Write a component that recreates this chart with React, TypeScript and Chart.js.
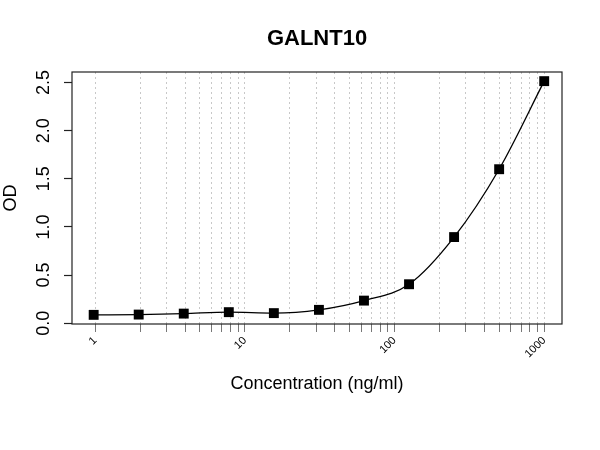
import React, { useEffect, useRef } from 'react';
import { Chart, registerables } from 'chart.js';

Chart.register(...registerables);

const titleText = 'GALNT10';
const xLabel = 'Concentration (ng/ml)';
const yLabel = 'OD';
const concentrations = [0.977, 1.953, 3.906, 7.8125, 15.625, 31.25, 62.5, 125, 250, 500, 1000];
const odValues = [0.087, 0.09, 0.1, 0.115, 0.105, 0.139, 0.235, 0.405, 0.895, 1.6, 2.515];
const xTickValues = [1, 2, 3, 4, 5, 6, 7, 8, 9, 10, 20, 30, 40, 50, 60, 70, 80, 90, 100, 200, 300, 400, 500, 600, 700, 800, 900, 1000];
const xTickLabels = [1, 10, 100, 1000];
const yTickValues = [0, 0.5, 1, 1.5, 2, 2.5];

const FONT = '"Liberation Sans", Arial, Helvetica, sans-serif';

const boxAndTitle = {
  id: 'boxAndTitle',
  beforeDatasetsDraw(chart: any) {
    const { ctx, chartArea: a } = chart;
    ctx.save();
    ctx.strokeStyle = '#222';
    ctx.lineWidth = 1.2;
    ctx.setLineDash([]);
    ctx.strokeRect(a.left, a.top, a.right - a.left, a.bottom - a.top);
    ctx.restore();
  },
  afterDraw(chart: any) {
    const { ctx, chartArea: a } = chart;
    ctx.save();
    ctx.fillStyle = '#000';
    ctx.font = 'bold 22px ' + FONT;
    ctx.textAlign = 'center';
    ctx.textBaseline = 'alphabetic';
    ctx.fillText(titleText, (a.left + a.right) / 2, 45);
    ctx.restore();
  },
};

export default function App() {
  const canvasRef = useRef<HTMLCanvasElement | null>(null);

  useEffect(() => {
    if (!canvasRef.current) return;
    const chart = new Chart(canvasRef.current, {
      type: 'scatter',
      data: {
        datasets: [
          {
            data: concentrations.map((x, i) => ({ x, y: odValues[i] })),
            showLine: true,
            borderColor: '#000',
            borderWidth: 1.3,
            backgroundColor: '#000',
            pointStyle: 'rect',
            pointRadius: 7,
            pointBorderWidth: 0,
            pointBackgroundColor: '#000',
            cubicInterpolationMode: 'monotone',
          } as any,
        ],
      },
      options: {
        animation: false,
        responsive: false,
        layout: { padding: { top: 72, right: 38, bottom: 0, left: 0 } },
        plugins: {
          legend: { display: false },
          tooltip: { enabled: false },
          title: { display: false },
        },
        scales: {
          x: {
            type: 'logarithmic',
            position: 'bottom',
            min: 0.73,
            max: 1315,
            afterBuildTicks: (s: any) => {
              s.ticks = xTickValues.map((v) => ({ value: v }));
            },
            afterFit: (s: any) => {
              s.height = 126;
            },
            ticks: {
              autoSkip: false,
              minRotation: 45,
              maxRotation: 45,
              padding: 2,
              color: '#000',
              font: { family: FONT, size: 11 },
              callback: (v: any) => (xTickLabels.includes(Number(v)) ? String(Number(v)) : ''),
            },
            grid: {
              color: '#c8c8c8',
              lineWidth: 1,
              drawOnChartArea: true,
              drawTicks: true,
              tickLength: 8,
              tickColor: '#777',
              tickBorderDash: [],
              tickWidth: 1,
            },
            border: { display: false, dash: [2, 3] },
            title: {
              display: true,
              text: xLabel,
              color: '#000',
              font: { family: FONT, size: 18 },
              padding: { top: 0, bottom: 55.2 },
            },
          },
          y: {
            type: 'linear',
            position: 'left',
            min: -0.008,
            max: 2.61,
            afterBuildTicks: (s: any) => {
              s.ticks = yTickValues.map((v) => ({ value: v }));
            },
            afterFit: (s: any) => {
              s.width = 72;
            },
            ticks: {
              autoSkip: false,
              minRotation: 90,
              maxRotation: 90,
              crossAlign: 'center',
              padding: 7.5,
              color: '#000',
              font: { family: FONT, size: 18 },
              callback: (v: any) => Number(v).toFixed(1),
            },
            grid: {
              drawOnChartArea: false,
              drawTicks: true,
              tickLength: 8,
              tickColor: '#222',
              tickWidth: 1.2,
            },
            border: { display: false },
            title: {
              display: true,
              text: yLabel,
              color: '#000',
              font: { family: FONT, size: 18 },
              padding: { top: 0, bottom: 0 },
            },
          },
        },
      } as any,
      plugins: [boxAndTitle],
    });
    return () => chart.destroy();
  }, []);

  return (
    <div style={{ position: 'fixed', left: 0, top: 0, width: 600, height: 450, background: '#fff' }}>
      <canvas ref={canvasRef} width={600} height={450} />
    </div>
  );
}
